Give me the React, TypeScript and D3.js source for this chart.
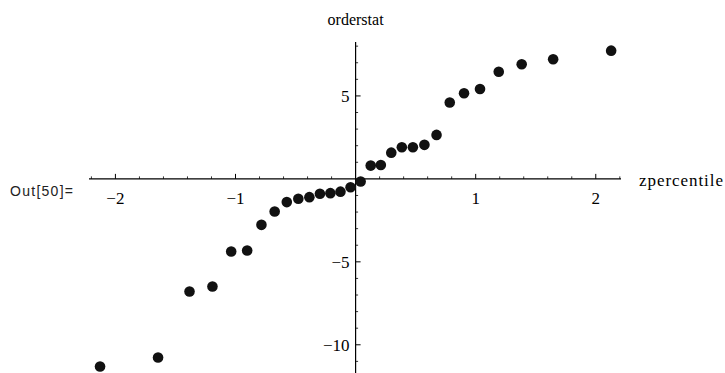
import React from "react";
import * as d3 from "d3";

const zpercentile = [
  -2.128, -1.645, -1.383, -1.192, -1.036, -0.903, -0.784, -0.674, -0.573, -0.477,
  -0.385, -0.297, -0.21, -0.126, -0.042, 0.042, 0.126, 0.21, 0.297, 0.385,
  0.477, 0.573, 0.674, 0.784, 0.903, 1.036, 1.192, 1.383, 1.645, 2.128,
];
const orderstat = [
  -11.31, -10.77, -6.79, -6.49, -4.38, -4.32, -2.77, -1.97, -1.4, -1.2,
  -1.1, -0.9, -0.86, -0.77, -0.5, -0.16, 0.8, 0.84, 1.58, 1.91,
  1.91, 2.05, 2.65, 4.6, 5.16, 5.42, 6.46, 6.91, 7.21, 7.73,
];
const xTickLabels = [-2, -1, 1, 2];
const yTickLabels = [-10, -5, 5];

const W = 725;
const H = 373;

export default function App() {
  const x = d3.scaleLinear().domain([-2.22, 2.21]).range([89, 621]);
  const y = d3.scaleLinear().domain([-11.7, 8.25]).range([373, 42]);
  const x0 = x(0);
  const y0 = y(0);
  const xMinor = d3.range(-11, 12).map((i) => i * 0.2).filter((v) => Math.abs(v) > 1e-9 && Math.abs(Math.round(v) - v) > 1e-9 && v >= -2.22 && v <= 2.21);
  const yMinor = d3.range(-11, 9).filter((v) => v !== 0 && v % 5 !== 0);
  const fmt = (v: number) => (v < 0 ? "\u2212" + Math.abs(v) : String(v));
  const serif: React.CSSProperties = { fontFamily: '"Liberation Serif", "DejaVu Serif", serif' };
  return (
    <svg width={W} height={H} style={{ position: "absolute", left: 0, top: 0, background: "#fff" }}>
      <rect x={0} y={0} width={W} height={H} fill="#fff" />
      {/* axes */}
      <line x1={x.range()[0]} x2={x.range()[1]} y1={y0} y2={y0} stroke="#000" strokeWidth={1.2} />
      <line x1={x0} x2={x0} y1={y.range()[1]} y2={y.range()[0]} stroke="#000" strokeWidth={1.2} />
      {/* x ticks */}
      {xMinor.map((v, i) => (
        <line key={"xm" + i} x1={x(v)} x2={x(v)} y1={y0} y2={y0 - 2.5} stroke="#000" strokeWidth={0.8} />
      ))}
      {xTickLabels.map((v) => (
        <g key={"xt" + v}>
          <line x1={x(v)} x2={x(v)} y1={y0} y2={y0 - 5} stroke="#000" strokeWidth={1} />
          <text x={x(v)} y={y0 + 25} textAnchor="middle" style={serif} fontSize={17} fill="#000">
            {fmt(v)}
          </text>
        </g>
      ))}
      {/* y ticks */}
      {yMinor.map((v) => (
        <line key={"ym" + v} x1={x0} x2={x0 + 2.5} y1={y(v)} y2={y(v)} stroke="#000" strokeWidth={0.8} />
      ))}
      {yTickLabels.map((v) => (
        <g key={"yt" + v}>
          <line x1={x0} x2={x0 + 5} y1={y(v)} y2={y(v)} stroke="#000" strokeWidth={1} />
          <text x={x0 - 6} y={y(v) + 6} textAnchor="end" style={serif} fontSize={17} fill="#000">
            {fmt(v)}
          </text>
        </g>
      ))}
      {/* labels */}
      <text x={x0} y={25} textAnchor="middle" style={serif} fontSize={16} fill="#000">orderstat</text>
      <text x={639} y={y0 + 7} style={serif} fontSize={17} textLength={84} fill="#000">zpercentile</text>
      <text x={10} y={y0 + 17} style={{ fontFamily: '"Liberation Sans", Arial, sans-serif' }} fontSize={14} textLength={63} fill="#222">Out[50]=</text>
      {/* points */}
      {zpercentile.map((z, i) => (
        <circle key={"p" + i} cx={x(z)} cy={y(orderstat[i])} r={5.3} fill="#111" />
      ))}
    </svg>
  );
}
